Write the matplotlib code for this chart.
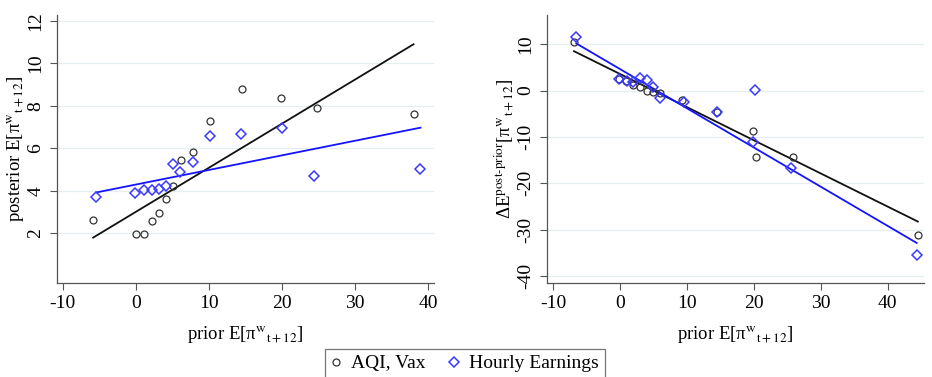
import numpy as np
import matplotlib
matplotlib.use("Agg")
import matplotlib.pyplot as plt
from matplotlib.lines import Line2D

plt.rcParams['font.family'] = ['Liberation Serif', 'DejaVu Serif']
plt.rcParams['mathtext.fontset'] = 'stix'
plt.rcParams['axes.unicode_minus'] = False

# ---------------- data ----------------
# Left panel: posterior vs prior
aqi_prior = [-5.85, 0.0, 1.1, 2.15, 3.15, 4.1, 5.1, 6.16, 7.76, 10.1, 14.5, 19.9, 24.75, 38.0]
aqi_post = [2.64, 1.97, 1.97, 2.58, 2.94, 3.6, 4.23, 5.47, 5.81, 7.27, 8.81, 8.35, 7.9, 7.62]
he_prior = [-5.4, -0.1, 1.1, 2.15, 3.15, 4.1, 5.1, 6.0, 7.85, 10.1, 14.4, 20.0, 24.4, 38.95]
he_post = [3.71, 3.9, 4.02, 4.02, 4.08, 4.2, 5.26, 4.89, 5.36, 6.58, 6.69, 6.94, 4.70, 5.01]

# Right panel: revision vs prior
aqi_prior_r = [-6.87, -0.1, 0.95, 2.0, 3.0, 4.0, 5.0, 6.0, 9.2, 14.48, 19.85, 20.25, 25.82, 44.48]
aqi_rev = [10.52, 2.52, 2.07, 1.3, 0.7, -0.15, -0.33, -0.45, -1.95, -4.54, -8.79, -14.27, -14.41, -31.12]
he_prior_r = [-6.52, -0.2, 1.0, 2.0, 3.0, 4.0, 5.0, 6.0, 9.5, 14.48, 19.85, 20.2, 25.57, 44.3]
he_rev = [11.6, 2.6, 2.0, 1.8, 2.8, 2.2, 0.8, -1.7, -2.52, -4.54, -11.0, 0.22, -16.7, -35.5]

# fitted lines (intercept, slope)
fit_aqi_left = (3.005, 0.2078)
fit_he_left = (4.29, 0.0688)
fit_aqi_right = (3.58, -0.7155)
fit_he_right = (4.64, -0.8463)

xticks = [-10, 0, 10, 20, 30, 40]
yticks_left = [2, 4, 6, 8, 10, 12]
yticks_right = [-40, -30, -20, -10, 0, 10]

legend_labels = ["AQI, Vax", "Hourly Earnings"]

xlabel = r"prior E[π$^{\mathrm{w}}{}_{\mathrm{t+12}}$]"
ylabel_left = r"posterior E[π$^{\mathrm{w}}{}_{\mathrm{t+12}}$]"
ylabel_right = r"ΔE$^{\text{post-prior}}$[π$^{\mathrm{w}}{}_{\mathrm{t+12}}$]"

# ---------------- styling ----------------
BLACK = "#111111"
CIRC = "#333333"
BLUE = "#1414ff"
DIAM = "#3a3aff"
GRID = "#e6eef0"
SPINE = "#555555"

W, H = 932, 377
fig = plt.figure(figsize=(W / 100, H / 100), dpi=100)

def px_axes(x0, x1, ytop, ybot):
    return fig.add_axes([x0 / W, 1 - ybot / H, (x1 - x0) / W, (ybot - ytop) / H])

ax1 = px_axes(57, 434, 15, 283)
ax2 = px_axes(547, 924, 15, 283)

def style(ax, yticks, xlim, ylim, ylabel, ylabelpad):
    ax.set_xlim(*xlim)
    ax.set_ylim(*ylim)
    ax.set_xticks(xticks)
    ax.set_yticks(yticks)
    ax.set_yticklabels([str(t) for t in yticks], rotation=90, va='center')
    for s in ['top', 'right']:
        ax.spines[s].set_visible(False)
    for s in ['left', 'bottom']:
        ax.spines[s].set_color(SPINE)
        ax.spines[s].set_linewidth(0.9)
    ax.tick_params(axis='both', direction='out', length=5, width=0.8,
                   color=SPINE, labelsize=14, pad=4)
    ax.grid(axis='y', color=GRID, lw=0.9)
    ax.set_axisbelow(True)
    ax.set_xlabel(xlabel, fontsize=13.5, labelpad=9)
    ax.set_ylabel(ylabel, fontsize=13.5, labelpad=ylabelpad)

def fitline(ax, xs, coef, color):
    xa = np.array([min(xs), max(xs)])
    ax.plot(xa, coef[0] + coef[1] * xa, color=color, lw=1.3, zorder=2)

def scatter(ax, x1, y1, x2, y2):
    ax.plot(x1, y1, 'o', ms=5, mfc='none', mec=CIRC, mew=0.9, zorder=3)
    ax.plot(x2, y2, 'D', ms=5.5, mfc='none', mec=DIAM, mew=1.1, zorder=3)

scatter(ax1, aqi_prior, aqi_post, he_prior, he_post)
fitline(ax1, aqi_prior, fit_aqi_left, BLACK)
fitline(ax1, he_prior, fit_he_left, BLUE)
style(ax1, yticks_left, (-10.8, 40.8), (-0.35, 12.28), ylabel_left, 0.5)

scatter(ax2, aqi_prior_r, aqi_rev, he_prior_r, he_rev)
fitline(ax2, aqi_prior_r, fit_aqi_right, BLACK)
fitline(ax2, he_prior_r, fit_he_right, BLUE)
style(ax2, yticks_right, (-10.9, 45.4), (-41.5, 16.3), ylabel_right, 1)

handles = [
    Line2D([], [], ls='none', marker='o', ms=5, mfc='none', mec=CIRC, mew=0.9),
    Line2D([], [], ls='none', marker='D', ms=5.5, mfc='none', mec=DIAM, mew=1.1),
]
leg = fig.legend(handles, legend_labels, loc='upper center',
                 bbox_to_anchor=(465 / W, 1 - 349 / H), ncol=2,
                 fontsize=14, frameon=True, fancybox=False,
                 edgecolor=SPINE, handlelength=0.5, handletextpad=0.55,
                 columnspacing=1.2, borderpad=0.3, borderaxespad=0)
leg.get_frame().set_linewidth(0.9)

fig.savefig("out.png", dpi=100)
